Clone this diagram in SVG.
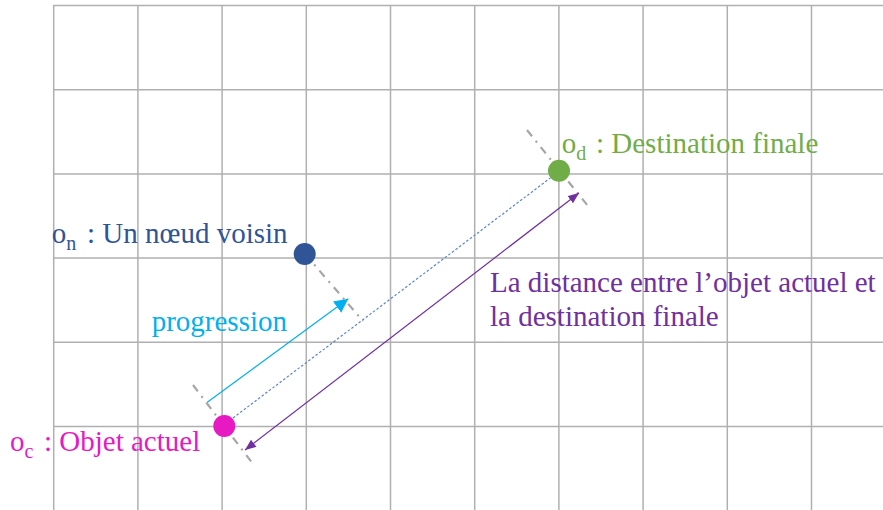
<svg xmlns="http://www.w3.org/2000/svg" width="883" height="510" viewBox="0 0 883 510">
<style>
.grid line{stroke:#b0b0b0;stroke-width:1.5}
.guide{stroke:#a6a6a6;stroke-width:2.2;stroke-dasharray:8 6 2 6;fill:none}
text{font-family:"Liberation Serif","Times New Roman",serif;font-size:29px}
.sub{font-size:20px}
</style>
<defs>
<marker id="cyanHead" markerUnits="userSpaceOnUse" markerWidth="16" markerHeight="16" refX="14" refY="7" orient="auto"><path d="M0,0 L14,7 L0,14 Z" fill="#00b0f0"/></marker>
<marker id="purpEnd" markerUnits="userSpaceOnUse" markerWidth="12" markerHeight="10" refX="11" refY="4.5" orient="auto"><path d="M0,0 L11,4.5 L0,9 Z" fill="#7030a0"/></marker>
<marker id="purpStart" markerUnits="userSpaceOnUse" markerWidth="12" markerHeight="10" refX="0" refY="4.5" orient="auto"><path d="M11,0 L0,4.5 L11,9 Z" fill="#7030a0"/></marker>
</defs>
<rect width="883" height="510" fill="#fff"/>
<g class="grid" id="grid">
<line x1="53.7" y1="5" x2="53.7" y2="510"/>
<line x1="137.9" y1="5" x2="137.9" y2="510"/>
<line x1="222.1" y1="5" x2="222.1" y2="510"/>
<line x1="306.3" y1="5" x2="306.3" y2="510"/>
<line x1="390.5" y1="5" x2="390.5" y2="510"/>
<line x1="474.7" y1="5" x2="474.7" y2="510"/>
<line x1="558.9" y1="5" x2="558.9" y2="510"/>
<line x1="643.1" y1="5" x2="643.1" y2="510"/>
<line x1="727.3" y1="5" x2="727.3" y2="510"/>
<line x1="811.5" y1="5" x2="811.5" y2="510"/>
<line x1="53" y1="5.5" x2="883" y2="5.5"/>
<line x1="53" y1="89.7" x2="883" y2="89.7"/>
<line x1="53" y1="173.9" x2="883" y2="173.9"/>
<line x1="53" y1="258.1" x2="883" y2="258.1"/>
<line x1="53" y1="342.3" x2="883" y2="342.3"/>
<line x1="53" y1="426.5" x2="883" y2="426.5"/>
</g>
<g id="guides">
<line class="guide" x1="193" y1="385" x2="253" y2="464"/>
<line class="guide" x1="305" y1="254" x2="363" y2="321"/>
<line class="guide" x1="527" y1="130" x2="588" y2="206"/>
</g>
<g id="connectors">
<line x1="233" y1="418" x2="553" y2="176" stroke="#5b84d0" stroke-width="1.2" stroke-dasharray="2.5 2"/>
<line x1="207.3" y1="402.3" x2="348.3" y2="298.8" stroke="#00b0f0" stroke-width="1.2" marker-end="url(#cyanHead)"/>
<line x1="245" y1="450" x2="579" y2="193" stroke="#7030a0" stroke-width="1.2" marker-start="url(#purpStart)" marker-end="url(#purpEnd)"/>
</g>
<g id="node-od">
<circle cx="559" cy="170.7" r="11" fill="#70ad47"/>
<text x="561.7" y="153.3" fill="#70ad47">o<tspan class="sub" dy="7">d</tspan><tspan x="596" dy="-7">: Destination finale</tspan></text>
</g>
<g id="node-on">
<circle cx="304.7" cy="254" r="11" fill="#2f5597"/>
<text x="51.7" y="242.7" fill="#2f5597">o<tspan class="sub" dy="7">n</tspan><tspan x="87" dy="-7">: Un nœud voisin</tspan></text>
</g>
<g id="node-oc">
<circle cx="224.3" cy="426" r="11" fill="#e619c3"/>
<text x="10" y="451" fill="#e619c3">o<tspan class="sub" dy="7">c</tspan><tspan x="44" dy="-7">: Objet actuel</tspan></text>
</g>
<g id="labels">
<text x="151.7" y="331" fill="#00b0f0">progression</text>
<text x="490" y="291.7" fill="#7030a0">La distance entre l’objet actuel et</text>
<text x="490" y="326" fill="#7030a0">la destination finale</text>
</g>
</svg>
